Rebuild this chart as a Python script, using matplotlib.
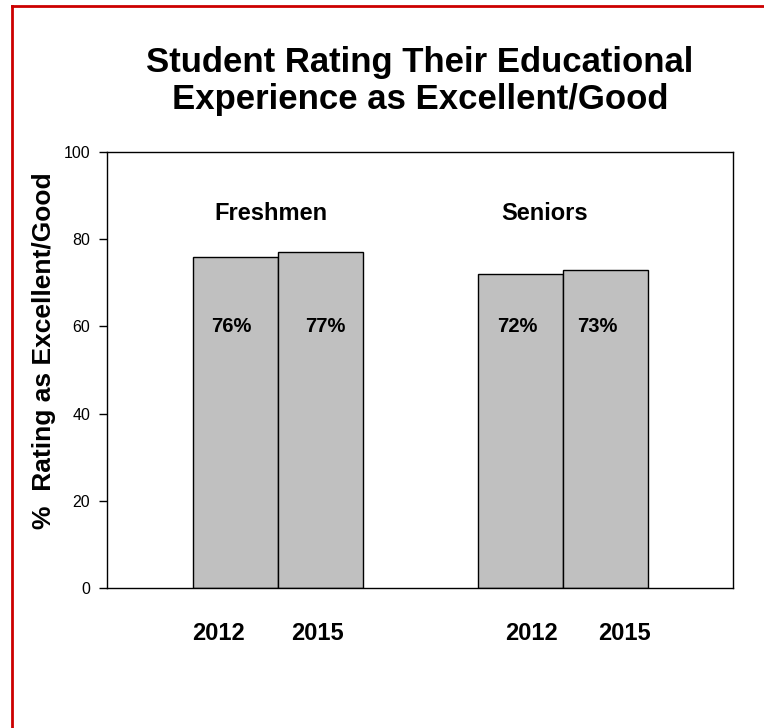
import matplotlib
matplotlib.use('Agg')
import matplotlib.pyplot as plt
from matplotlib.lines import Line2D

# chart data
groups = ['Freshmen', 'Seniors']
years = ['2012', '2015', '2012', '2015']
values = [76, 77, 72, 73]
labels = ['76%', '77%', '72%', '73%']

plt.rcParams['font.family'] = ['Liberation Sans', 'DejaVu Sans']

fig = plt.figure(figsize=(7.64, 7.28), dpi=100)
ax = fig.add_axes([107/764, 1 - 588/728, (733 - 107)/764, (588 - 152)/728])

# bar positions: two bars per group, gap between groups
pos = [0, 1, 3.35, 4.35]
ax.bar(pos, values, width=1.0, color='#c0c0c0', edgecolor='black', linewidth=1.0)

# value labels inside the bars
pct_shift = [-0.05, 0.06, -0.03, -0.1]
for x, dx, lab in zip(pos, pct_shift, labels):
    ax.text(x + dx, 60, lab, ha='center', va='center', fontsize=14.5, fontweight='bold')

# group names above the bars (placed a bit off-center like the original)
group_x = [(pos[0] + pos[1]) / 2 - 0.08, (pos[2] + pos[3]) / 2 - 0.21]
for x, g in zip(group_x, groups):
    ax.text(x, 86, g, ha='center', va='center', fontsize=17, fontweight='bold')

# year labels under the bars
year_shift = [-0.2, -0.04, 0.13, 0.22]
for x, dx, y in zip(pos, year_shift, years):
    ax.annotate(y, xy=(x + dx, 0), xycoords=('data', 'axes fraction'),
                xytext=(0, -45), textcoords='offset pixels',
                ha='center', va='center', fontsize=17, fontweight='bold')

ax.set_xlim(-1.51, 5.85)
ax.set_ylim(0, 100)
ax.set_yticks([0, 20, 40, 60, 80, 100])
ax.tick_params(axis='y', direction='out', length=6, width=1, labelsize=11.5, pad=6)
ax.set_xticks([])
for s in ax.spines.values():
    s.set_linewidth(1.0)
    s.set_color('black')

ax.set_ylabel('%  Rating as Excellent/Good', fontsize=19, fontweight='bold')
ax.yaxis.set_label_coords(-0.082, 0.545)

fig.text(420/764, 1 - 81/728, 'Student Rating Their Educational\nExperience as Excellent/Good',
         ha='center', va='center', fontsize=25, fontweight='bold', linespacing=1.12)

# red frame on top and left edges
fig.add_artist(Line2D([12/764, 12/764], [0, 1 - 6/728], color='#cc0000', linewidth=2,
                      transform=fig.transFigure))
fig.add_artist(Line2D([12/764, 1], [1 - 6/728, 1 - 6/728], color='#cc0000', linewidth=2,
                      transform=fig.transFigure))

fig.savefig('out.png', dpi=100)
